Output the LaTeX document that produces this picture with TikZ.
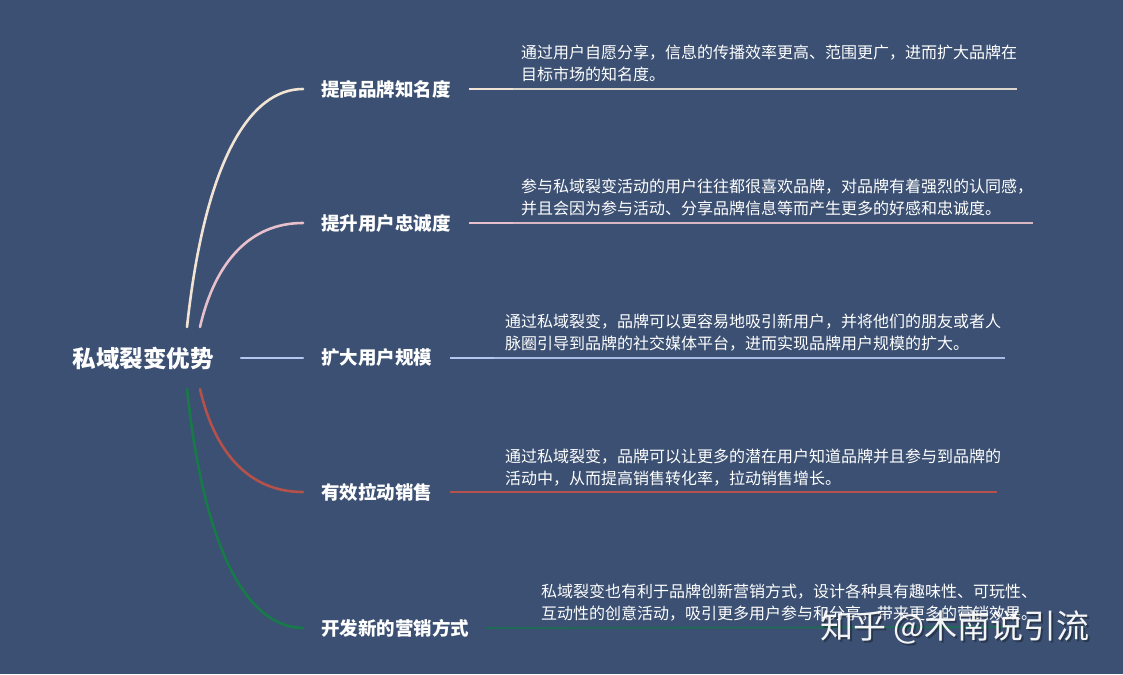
\documentclass[tikz,border=0pt]{standalone}
\usepackage{fontspec}
\setmainfont{Noto Sans CJK SC}
\definecolor{bg}{HTML}{3B5072}
\definecolor{ccream}{HTML}{F2E4D4}
\definecolor{ccreamL}{HTML}{DCD6CC}
\definecolor{cpink}{HTML}{E8C0CC}
\definecolor{cpinkL}{HTML}{D9B8C4}
\definecolor{cblue}{HTML}{B4C6F2}
\definecolor{cblueL}{HTML}{A9BBE4}
\definecolor{cred}{HTML}{B4514B}
\definecolor{cgreen}{HTML}{187A48}
\definecolor{cgreenL}{HTML}{1F6A55}
\begin{document}
\begin{tikzpicture}[x=1pt,y=-1pt,
  lab/.style={font=\fontsize{18.5}{22}\selectfont\bfseries, text=white, inner sep=0pt, anchor=west},
  desc/.style={font=\fontsize{16}{21.5}\selectfont, text=white, inner sep=0pt, anchor=north west, align=left},
  branch/.style={line width=2.6pt, line cap=round},
  uthick/.style={line width=2.8pt},
  uthin/.style={line width=1.8pt},
  wmark/.style={font=\fontsize{33}{36}\selectfont, inner sep=0pt, anchor=west}]
\fill[bg] (0,0) rectangle (1123,674);
\useasboundingbox (0,0) rectangle (1123,674);

% root
\node[font=\fontsize{23.5}{26}\selectfont\bfseries, text=white, inner sep=0pt] (root) at (143,358) {私域裂变优势};

% root side branch starts
\coordinate (r1) at (187,327);
\coordinate (r2) at (200,327);
\coordinate (r3) at (241,358);
\coordinate (r4) at (200,389);
\coordinate (r5) at (187,389);

% labels
\node[lab] (l1) at (321,89) {提高品牌知名度};
\node[lab] (l2) at (321,223) {提升用户忠诚度};
\node[lab] (l3) at (321,358) {扩大用户规模};
\node[lab] (l4) at (321,492) {有效拉动销售};
\node[lab] (l5) at (321,628) {开发新的营销方式};

% branches
\draw[branch, ccream] (r1) .. controls (205,160) and (250,89) .. ([xshift=-18pt]l1.west);
\draw[branch, cpink] (r2) .. controls (215,262) and (250,223) .. ([xshift=-18pt]l2.west);
\draw[branch, cblue] (r3) -- ([xshift=-18pt]l3.west);
\draw[branch, cred] (r4) .. controls (215,454) and (250,492) .. ([xshift=-18pt]l4.west);
\draw[branch, cgreen] (r5) .. controls (205,558) and (250,627) .. ([xshift=-18pt]l5.west);

% underline ends
\coordinate (e1) at (1017,89);
\coordinate (e2) at (1033,223);
\coordinate (e3) at (1005,358);
\coordinate (e4) at (997,492);
\coordinate (e5) at (1020,627);

% underlines
\draw[uthin, ccreamL] ([xshift=18pt]l1.east) -- (e1);
\draw[uthick, ccream] ([xshift=18pt]l1.east) -- ++(44,0);
\draw[uthin, cpinkL] ([xshift=18pt]l2.east) -- (e2);
\draw[uthick, cpink] ([xshift=18pt]l2.east) -- ++(44,0);
\draw[uthin, cblueL] ([xshift=18pt]l3.east) -- (e3);
\draw[uthick, cblue] ([xshift=18pt]l3.east) -- ++(44,0);
\draw[uthin, cred] ([xshift=18pt]l4.east) -- (e4);
\draw[uthick, cred] ([xshift=18pt]l4.east) -- ++(44,0);
\draw[uthin, cgreenL] ([xshift=17pt]l5.east) -- (e5);
\draw[uthick, cgreenL] ([xshift=17pt]l5.east) -- ++(44,0);

% descriptions
\node[desc] (t1) at (521,45) {通过用户自愿分享，信息的传播效率更高、范围更广，进而扩大品牌在\\目标市场的知名度。};
\node[desc] (t2) at (521,179) {参与私域裂变活动的用户往往都很喜欢品牌，对品牌有着强烈的认同感，\\并且会因为参与活动、分享品牌信息等而产生更多的好感和忠诚度。};
\node[desc] (t3) at (505,314) {通过私域裂变，品牌可以更容易地吸引新用户，并将他们的朋友或者人\\脉圈引导到品牌的社交媒体平台，进而实现品牌用户规模的扩大。};
\node[desc] (t4) at (505,449) {通过私域裂变，品牌可以让更多的潜在用户知道品牌并且参与到品牌的\\活动中，从而提高销售转化率，拉动销售增长。};
\node[desc] (t5) at (541,584) {私域裂变也有利于品牌创新营销方式，设计各种具有趣味性、可玩性、\\互动性的创意活动，吸引更多用户参与和分享，带来更多的营销效果。};

% watermark
\node[wmark, text=black, opacity=0.3] at (822,629) {知乎 @木南说引流};
\node[wmark, text=white, opacity=0.95] (wm) at (820,627) {知乎 @木南说引流};
\end{tikzpicture}
\end{document}
